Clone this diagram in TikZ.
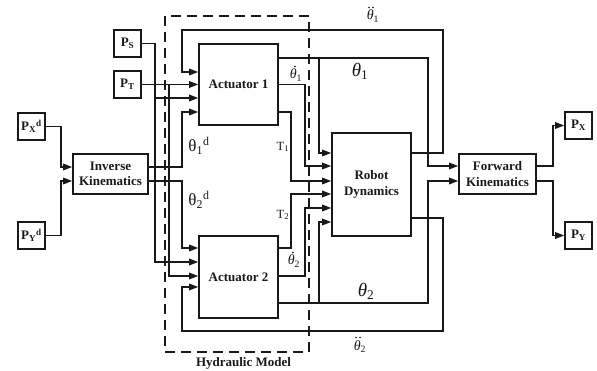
\documentclass[tikz,border=0pt]{standalone}
\usepackage{fontspec}
\setmainfont{Liberation Serif}
\usetikzlibrary{arrows.meta}
\begin{document}
\begin{tikzpicture}[x=1pt,y=-1pt,color=black!90,line width=1.6pt,
  blk/.style={draw, inner sep=0pt, align=center, font=\bfseries\fontsize{13}{15.6}\selectfont},
  pbox/.style={draw, inner sep=0pt, minimum size=27pt, font=\bfseries\fontsize{13}{15}\selectfont},
  arr/.style={-{Triangle[length=9pt,width=6.5pt]}},
  lblT/.style={inner sep=0pt, font=\fontsize{12.5}{14}\selectfont},
  lblD/.style={inner sep=0pt, font=\fontsize{17}{20}\selectfont},
  lblB/.style={inner sep=0pt, font=\fontsize{19}{21}\selectfont},
  lblS/.style={inner sep=0pt, anchor=base west, font=\fontsize{14}{16}\selectfont},
  accdot/.style={radius=0.95pt},
  hydbox/.style={draw, dash pattern=on 10pt off 6pt, inner sep=0pt}]
\fill[white] (0,0) rectangle (597,371);
\useasboundingbox (0,0) rectangle (597,371);

% dashed hydraulic model frame
\node[hydbox, minimum width=144pt, minimum height=336pt] (hyd) at (237,184) {};
\node[inner sep=0pt, font=\bfseries\fontsize{13}{15}\selectfont] (hydl) at (243.5,363) {Hydraulic Model};

% blocks
\node[pbox] (ps) at (127.5,43.5) {P\textsubscript{S}};
\node[pbox] (pt) at (127.5,84.5) {P\textsubscript{T}};
\node[pbox] (pxd) at (31.5,126.5) {P\textsubscript{X}\textsuperscript{d}};
\node[pbox] (pyd) at (31.5,235.5) {P\textsubscript{Y}\textsuperscript{d}};
\node[blk, minimum width=75pt, minimum height=40pt] (ik) at (110.5,174) {Inverse\\Kinematics};
\node[blk, minimum width=79pt, minimum height=81pt] (act1) at (238.5,84.5) {Actuator 1};
\node[blk, minimum width=79pt, minimum height=82pt] (act2) at (238.5,277) {Actuator 2};
\node[blk, minimum width=79pt, minimum height=103pt] (rd) at (371.5,184.5) {Robot\\Dynamics};
\node[blk, minimum width=77pt, minimum height=40pt] (fk) at (497.5,174) {Forward\\Kinematics};
\node[pbox] (px) at (578.5,125.5) {P\textsubscript{X}};
\node[pbox] (py) at (578.5,235.5) {P\textsubscript{Y}};

% desired positions into inverse kinematics
\draw[arr] (pxd.east) -| (61,167) -- (ik.west |- 0,167);
\draw[arr] (pyd.east) -| (61,181) -- (ik.west |- 0,181);

% supply and tank pressures
\draw[arr] (ps.east) -| (155,262) -- (act2.west |- 0,262);
\draw[arr] (155,98) -- (act1.west |- 0,98);
\draw[arr] (pt.east) -- (act1.west |- pt.east);
\draw[arr] (169,84.5) |- (act2.west |- 0,276);

% desired joint angles
\draw[arr] (ik.east |- 0,167) -| (182,112) -- (act1.west |- 0,112);
\draw[arr] (ik.east |- 0,181) -| (182,248) -- (act2.west |- 0,248);

% actuator 1 outputs
\draw[arr] (act1.east |- 0,58) -- (428,58) -- (428,166) -- (fk.west |- 0,166);
\draw[arr] (319,58) -- (319,153) -- (rd.west |- 0,153);
\draw[arr] (act1.east |- 0,84.5) -| (305,166) -- (rd.west |- 0,166);
\draw[arr] (act1.east |- 0,112) -| (291,181) -- (rd.west |- 0,181);

% actuator 2 outputs
\draw[arr] (act2.east |- 0,248) -| (291,194) -- (rd.west |- 0,194);
\draw[arr] (act2.east |- 0,276) -| (305,208) -- (rd.west |- 0,208);
\draw[arr] (act2.east |- 0,303) -| (428,181) -- (fk.west |- 0,181);
\draw[arr] (319,303) -- (319,222) -- (rd.west |- 0,222);

% acceleration feedback
\draw[arr] (rd.east |- 0,153) -| (443,30) -| (182,72) -- (act1.west |- 0,72);
\draw[arr] (rd.east |- 0,218) -| (443,331) -| (182,287) -- (act2.west |- 0,287);

% forward kinematics outputs
\draw[arr] (fk.east |- 0,166) -| (553,125.5) -- (px.west);
\draw[arr] (fk.east |- 0,181) -| (553,235.5) -- (py.west);

% labels
\node[lblD] (ld1) at (199,146) {θ\textsubscript{1}\textsuperscript{d}};
\node[lblD] (ld2) at (199,200) {θ\textsubscript{2}\textsuperscript{d}};
\node[lblT] (lt1) at (283,147) {T\textsubscript{1}};
\node[lblT] (lt2) at (283,215) {T\textsubscript{2}};
\node[lblB] (la1) at (360,71) {\textit{θ}\textsubscript{1}};
\node[lblB] (la2) at (366,291) {\textit{θ}\textsubscript{2}};

% velocity labels (dot accents drawn)
\node[lblS] (lv1) at (289,79) {\textit{θ}\textsubscript{1}};
\fill[accdot] ([shift={(5.8,-12.5)}]lv1.base west) circle;
\node[lblS] (lv2) at (287,265) {\textit{θ}\textsubscript{2}};
\fill[accdot] ([shift={(5.8,-12.5)}]lv2.base west) circle;

% acceleration labels (double dot accents drawn)
\node[lblS] (lc1) at (366,20) {\textit{θ}\textsubscript{1}};
\fill[accdot] ([shift={(3,-12.5)}]lc1.base west) circle;
\fill[accdot] ([shift={(7,-12.5)}]lc1.base west) circle;
\node[lblS] (lc2) at (353,350) {\textit{θ}\textsubscript{2}};
\fill[accdot] ([shift={(3,-12.5)}]lc2.base west) circle;
\fill[accdot] ([shift={(7,-12.5)}]lc2.base west) circle;
\end{tikzpicture}
\end{document}
